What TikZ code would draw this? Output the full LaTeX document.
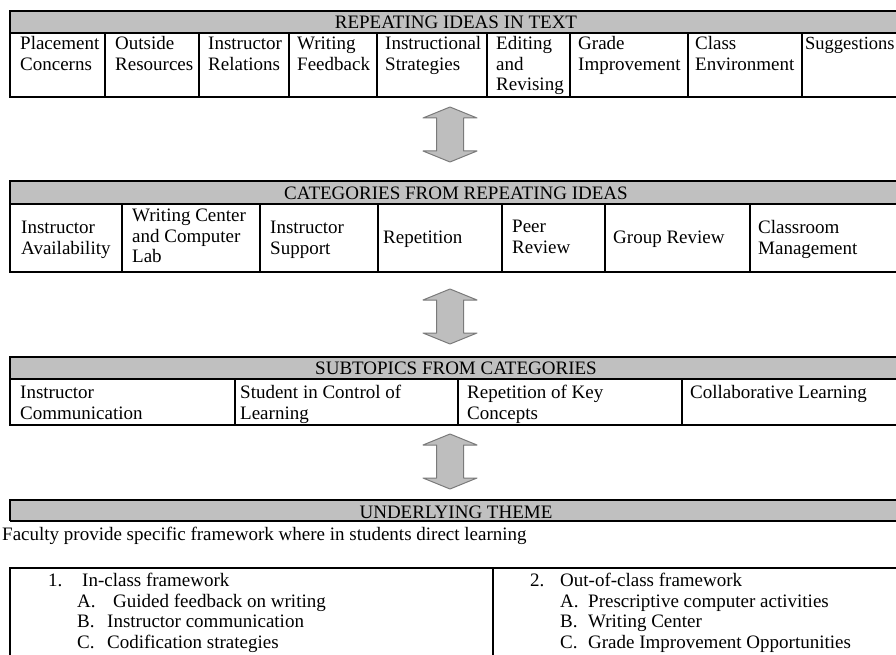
\documentclass[tikz,border=0pt]{standalone}
\usepackage{fontspec}
\setmainfont{Liberation Serif}
\definecolor{hdrgray}{HTML}{C0C0C0}
\definecolor{arrgray}{HTML}{BEBEBE}
\definecolor{arredge}{HTML}{7A7A7A}
\newcommand{\cellfont}{\fontsize{19}{20.5}\selectfont}
\tikzset{
  rule/.style={line width=1.2pt, black},
  hdr/.style={anchor=base, inner sep=0pt, font=\cellfont},
  cell/.style={anchor=north west, inner sep=0pt, align=left, font=\cellfont},
  updown/.pic={
    \draw[fill=arrgray, draw=arredge, line width=1pt, line join=round]
      (0,-27.5) -- (27,-16.5) -- (13.5,-16.5) -- (13.5,16.5) -- (27,16.5)
      -- (0,27.5) -- (-27,16.5) -- (-13.5,16.5) -- (-13.5,-16.5) -- (-27,-16.5) -- cycle;
  }
}
\begin{document}
\begin{tikzpicture}[x=1pt, y=-1pt]
\useasboundingbox (0,0) rectangle (896,655);
\clip (0,0) rectangle (896,655);

% Repeating ideas
\fill[hdrgray] (10,11) rectangle (902,33);
\draw[rule] (902,11) -- (10,11) -- (10,97) -- (902,97);
\draw[rule] (10,33) -- (902,33);
\foreach \x in {105,199,289,377,487,570,688,802}
  \draw[rule] (\x,33) -- (\x,97);
\node[hdr] (ideas) at (456,29) {REPEATING IDEAS IN TEXT};
\node[cell] (placement) at (20,35) {\strut Placement\\Concerns};
\node[cell] (outside) at (115,35) {\strut Outside\\Resources};
\node[cell] (relations) at (208,35) {\strut Instructor\\Relations};
\node[cell] (feedback) at (297,35) {\strut Writing\\Feedback};
\node[cell] (strategies) at (385,35) {\strut Instructional\\Strategies};
\node[cell] (editing) at (496,35) {\strut Editing\\and\\Revising};
\node[cell] (grade) at (578,35) {\strut Grade\\Improvement};
\node[cell] (classenv) at (695,35) {\strut Class\\Environment};
\node[cell, font=\fontsize{18.5}{20.5}\selectfont] (suggest) at (805,35) {\strut Suggestions};

\pic at (450,134.5) {updown};

% Categories
\fill[hdrgray] (10,181) rectangle (902,204);
\draw[rule] (902,181) -- (10,181) -- (10,272) -- (902,272);
\draw[rule] (10,204) -- (902,204);
\foreach \x in {122,260,378,502,605,750}
  \draw[rule] (\x,204) -- (\x,272);
\node[hdr] (cats) at (456,199) {CATEGORIES FROM REPEATING IDEAS};
\node[cell] (avail) at (21,219) {\strut Instructor\\Availability};
\node[cell] (center) at (132,207) {\strut Writing Center\\and Computer\\Lab};
\node[cell] (support) at (270,219) {\strut Instructor\\Support};
\node[cell] (repet) at (383,229) {\strut Repetition};
\node[cell] (peer) at (512,218) {\strut Peer\\Review};
\node[cell] (group) at (613,229) {\strut Group Review};
\node[cell] (manage) at (758,219) {\strut Classroom\\Management};

\pic at (450,316.5) {updown};

% Subtopics
\fill[hdrgray] (10,357) rectangle (902,379);
\draw[rule] (902,357) -- (10,357) -- (10,425) -- (902,425);
\draw[rule] (10,379) -- (902,379);
\foreach \x in {235,458,682}
  \draw[rule] (\x,379) -- (\x,425);
\node[hdr] (subs) at (456,374) {SUBTOPICS FROM CATEGORIES};
\node[cell] (comm) at (20,384) {\strut Instructor\\Communication};
\node[cell] (control) at (240,384) {\strut Student in Control of\\Learning};
\node[cell] (keycon) at (467,384) {\strut Repetition of Key\\Concepts};
\node[cell] (collab) at (690,384) {\strut Collaborative Learning};

\pic at (450,461.5) {updown};

% Underlying theme
\fill[hdrgray] (10,500) rectangle (902,521);
\draw[rule] (902,500) -- (10,500) -- (10,521);
\draw[rule] (10,521) -- (902,521);
\draw[rule] (10,655) -- (10,568) -- (902,568);
\draw[rule] (493,568) -- (493,655);
\node[hdr] (theme) at (456,518) {UNDERLYING THEME};
\node[cell] (faculty) at (2,526) {\strut Faculty provide specific framework where in students direct learning};
\node[cell] (inclass) at (48,572) {\strut\makebox[34pt][l]{1.}In-class framework\\
  \hspace*{29pt}\makebox[36pt][l]{A.}Guided feedback on writing\\
  \hspace*{29pt}\makebox[30pt][l]{B.}Instructor communication\\
  \hspace*{29pt}\makebox[30pt][l]{C.}Codification strategies};
\node[cell] (outclass) at (530,572) {\strut\makebox[30pt][l]{2.}Out-of-class framework\\
  \hspace*{30pt}\makebox[28pt][l]{A.}Prescriptive computer activities\\
  \hspace*{30pt}\makebox[28pt][l]{B.}Writing Center\\
  \hspace*{30pt}\makebox[28pt][l]{C.}Grade Improvement Opportunities};
\end{tikzpicture}
\end{document}
